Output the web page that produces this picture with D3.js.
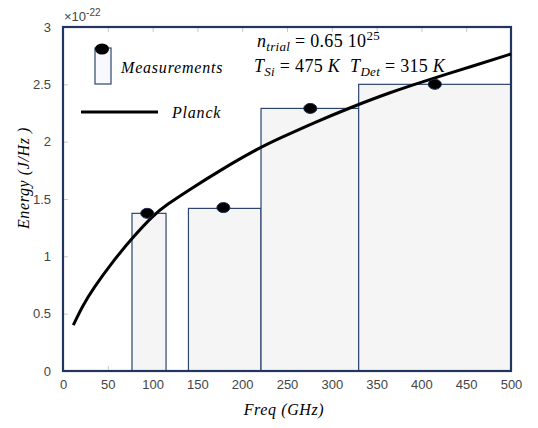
<!DOCTYPE html>
<html>
<head>
  <title>Energy vs Freq</title>
  <script src="https://cdn.jsdelivr.net/npm/d3@7"></script>
  <style>
    body { margin: 0; background: #fff; }
    .tick text { font-family: Arial, "Liberation Sans", sans-serif; }
    .math { font-family: "Liberation Serif", "DejaVu Serif", serif; font-style: italic; }
    .serif { font-family: "Liberation Serif", "DejaVu Serif", serif; }
  </style>
</head>
<body>
  <script>
    // chart size
    const w = 538;
    const h = 428;

    // measurements: frequency band edges, measured energy (x 1e-22) and dot position
    const bandStart = [77, 140, 221, 330];
    const bandEnd = [115, 221, 330, 500];
    const bandEnergy = [1.375, 1.418, 2.29, 2.50];
    const dotFreq = [94, 179, 276, 415];
    const dotEnergy = [1.375, 1.425, 2.29, 2.50];

    // Planck curve
    const planckFreq = [11.5, 22, 33.8, 55, 77.8, 100.8, 115.7, 139.9, 175.2, 219.9, 242, 280, 320, 365, 410, 460, 500];
    const planckEnergy = [0.40, 0.57, 0.72, 0.95, 1.165, 1.36, 1.45, 1.575, 1.75, 1.95, 2.03, 2.165, 2.295, 2.43, 2.545, 2.665, 2.765];

    const xTicks = [0, 50, 100, 150, 200, 250, 300, 350, 400, 450, 500];
    const yTicks = [0, 0.5, 1, 1.5, 2, 2.5, 3];

    const mLeft = 63, mRight = 511, mTop = 27, mBottom = 371;
    const navy = "#22355e";

    const xScale = d3.scaleLinear().domain([0, 500]).range([mLeft, mRight]);
    const yScale = d3.scaleLinear().domain([0, 3]).range([mBottom, mTop]);

    const svg = d3.select("body").append("svg")
      .attr("width", w)
      .attr("height", h);

    // inward ticks on all four sides
    const tickColor = "#c8c8c8";
    svg.append("g").attr("transform", `translate(0,${mBottom})`)
      .call(d3.axisBottom(xScale).tickValues(xTicks).tickSizeInner(-5).tickSizeOuter(0).tickPadding(9))
      .call(g => g.select(".domain").remove())
      .call(g => g.selectAll("line").attr("stroke", tickColor))
      .call(g => g.selectAll("text").attr("font-size", 13).attr("fill", "#444"));
    svg.append("g").attr("transform", `translate(0,${mTop})`)
      .call(d3.axisTop(xScale).tickValues(xTicks).tickSizeInner(-5).tickSizeOuter(0).tickFormat(""))
      .call(g => g.select(".domain").remove())
      .call(g => g.selectAll("line").attr("stroke", tickColor));
    svg.append("g").attr("transform", `translate(${mLeft},0)`)
      .call(d3.axisLeft(yScale).tickValues(yTicks).tickSizeInner(-5).tickSizeOuter(0).tickPadding(12)
        .tickFormat(d3.format("~g")))
      .call(g => g.select(".domain").remove())
      .call(g => g.selectAll("line").attr("stroke", tickColor))
      .call(g => g.selectAll("text").attr("font-size", 13).attr("fill", "#444"));
    svg.append("g").attr("transform", `translate(${mRight},0)`)
      .call(d3.axisRight(yScale).tickValues(yTicks).tickSizeInner(-5).tickSizeOuter(0).tickFormat(""))
      .call(g => g.select(".domain").remove())
      .call(g => g.selectAll("line").attr("stroke", tickColor));

    // bars
    svg.selectAll("rect.band")
      .data(bandStart)
      .enter()
      .append("rect")
      .attr("class", "band")
      .attr("x", (d, i) => xScale(d))
      .attr("y", (d, i) => yScale(bandEnergy[i]))
      .attr("width", (d, i) => xScale(bandEnd[i]) - xScale(d))
      .attr("height", (d, i) => yScale(0) - yScale(bandEnergy[i]))
      .attr("fill", "#f5f5f5")
      .attr("stroke", "#2e4470")
      .attr("stroke-width", 1.2);

    // frame
    svg.append("rect")
      .attr("x", mLeft).attr("y", mTop)
      .attr("width", mRight - mLeft).attr("height", mBottom - mTop)
      .attr("fill", "none")
      .attr("stroke", navy)
      .attr("stroke-width", 2.2);

    // Planck line
    const line = d3.line()
      .x((d, i) => xScale(planckFreq[i]))
      .y(d => yScale(d))
      .curve(d3.curveBasis);
    svg.append("path")
      .attr("d", line(planckEnergy))
      .attr("fill", "none")
      .attr("stroke", "#000")
      .attr("stroke-width", 3);

    // measurement dots
    svg.selectAll("ellipse.dot")
      .data(dotFreq)
      .enter()
      .append("ellipse")
      .attr("class", "dot")
      .attr("cx", d => xScale(d))
      .attr("cy", (d, i) => yScale(dotEnergy[i]))
      .attr("rx", 6.5)
      .attr("ry", 5)
      .attr("fill", "#000")
      .attr("stroke", "#1c2a4a")
      .attr("stroke-width", 1);

    // exponent label
    const ex = svg.append("text").attr("x", 64).attr("y", 21).attr("font-size", 13).attr("fill", "#444")
      .style("font-family", "Arial, 'Liberation Sans', sans-serif");
    ex.append("tspan").text("×10");
    ex.append("tspan").attr("dy", -5).attr("font-size", 10).text("-22");

    // legend
    svg.append("rect")
      .attr("x", 95).attr("y", 48).attr("width", 16).attr("height", 36)
      .attr("fill", "#f8f9fc").attr("stroke", "#2e4470").attr("stroke-width", 1.2);
    svg.append("ellipse")
      .attr("cx", 102).attr("cy", 49).attr("rx", 7).attr("ry", 5.5).attr("fill", "#000");
    svg.append("text").attr("class", "math").attr("x", 121).attr("y", 73)
      .attr("font-size", 16).attr("letter-spacing", 0.8).text("Measurements");
    svg.append("line")
      .attr("x1", 81).attr("x2", 158).attr("y1", 112).attr("y2", 112)
      .attr("stroke", "#000").attr("stroke-width", 3);
    svg.append("text").attr("class", "math").attr("x", 172).attr("y", 118)
      .attr("font-size", 16).attr("letter-spacing", 0.8).text("Planck");

    // parameter annotation
    const n = svg.append("text").attr("class", "serif").attr("x", 257).attr("y", 47)
      .attr("font-size", 18).attr("letter-spacing", 0.3);
    n.append("tspan").attr("font-style", "italic").text("n");
    n.append("tspan").attr("font-style", "italic").attr("font-size", 13).attr("dy", 4).text("trial");
    n.append("tspan").attr("dy", -4).text(" = 0.65 10");
    n.append("tspan").attr("font-size", 13).attr("dy", -7).text("25");

    const t = svg.append("text").attr("class", "serif").attr("x", 254).attr("y", 72)
      .attr("font-size", 18).attr("letter-spacing", 0.3);
    t.append("tspan").attr("font-style", "italic").text("T");
    t.append("tspan").attr("font-style", "italic").attr("font-size", 13).attr("dy", 4).text("Si");
    t.append("tspan").attr("dy", -4).text(" = 475 ");
    t.append("tspan").attr("font-style", "italic").text("K");
    t.append("tspan").attr("dx", 10).attr("font-style", "italic").text("T");
    t.append("tspan").attr("font-style", "italic").attr("font-size", 13).attr("dy", 4).text("Det");
    t.append("tspan").attr("dy", -4).text(" = 315 ");
    t.append("tspan").attr("font-style", "italic").text("K");

    // axis titles
    svg.append("text").attr("class", "math")
      .attr("x", 284).attr("y", 415).attr("text-anchor", "middle")
      .attr("font-size", 16).attr("letter-spacing", 0.6).text("Freq (GHz)");
    svg.append("text").attr("class", "math")
      .attr("transform", "translate(29,178) rotate(-90)")
      .attr("text-anchor", "middle")
      .attr("font-size", 16).attr("letter-spacing", 0.6).text("Energy (J/Hz )");
  </script>
</body>
</html>
